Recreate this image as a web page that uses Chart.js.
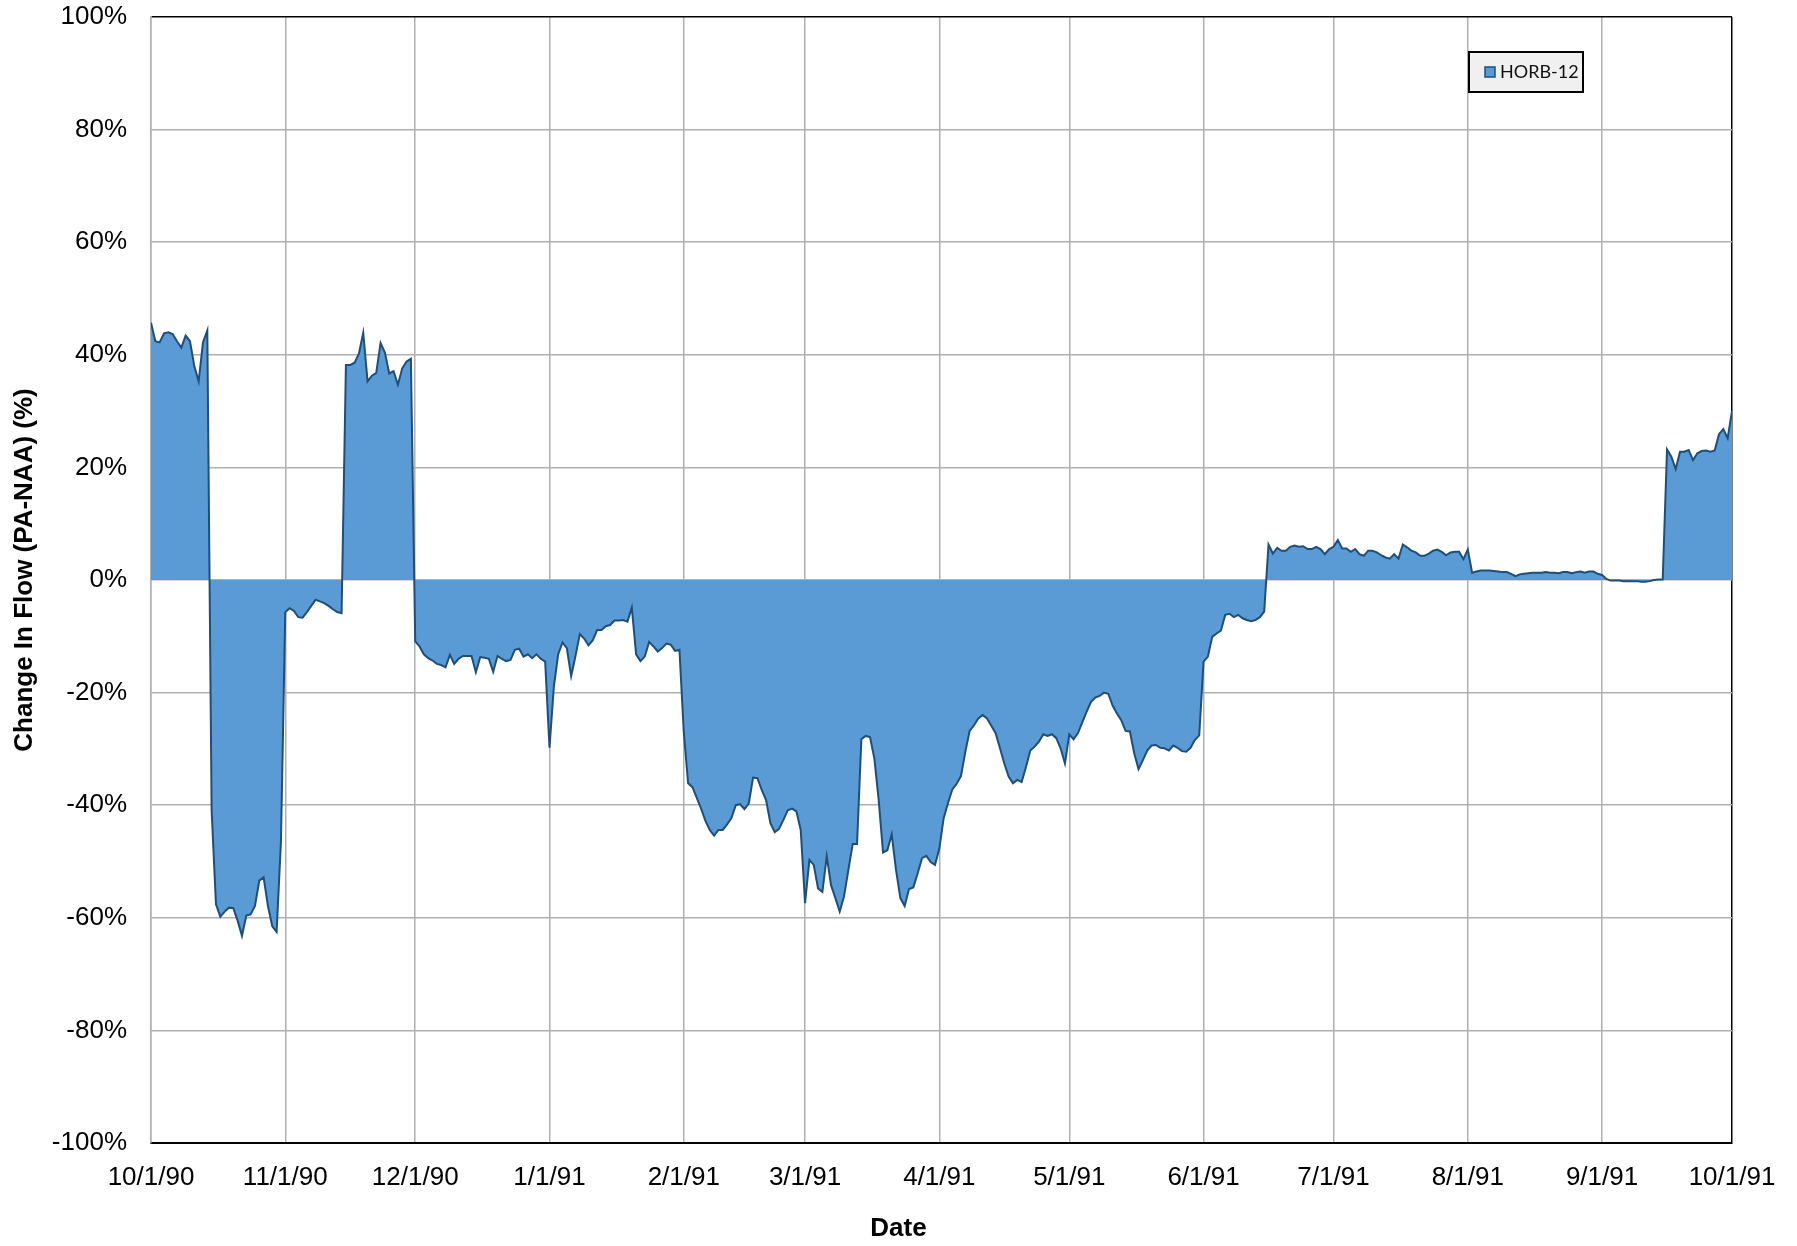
<!DOCTYPE html>
<html>
<head>
<meta charset="utf-8">
<title>HORB-12 change in flow</title>
<script src="https://cdn.jsdelivr.net/npm/chart.js@4.4.1/dist/chart.umd.min.js"></script>
<style>
  html, body { margin: 0; padding: 0; background: #fff; }
  #wrap { width: 1797px; height: 1246px; }
</style>
</head>
<body>
<div id="wrap"><canvas id="myChart" width="1797" height="1246"></canvas></div>
<script>
// daily change in flow (%), water year 10/1/90 - 10/1/91, one array per month
const oct90 = [45.7, 42.4, 42.2, 43.8, 44.0, 43.7, 42.4, 41.3, 43.4, 42.4, 38.0, 35.3, 42.2, 44.3,
  -41.0, -57.6, -59.8, -58.9, -58.2, -58.3, -60.5, -63.2, -59.6, -59.4, -57.9, -53.4, -52.8, -57.9, -61.5, -62.5, -46.5];
const nov90 = [-5.7, -5.0, -5.5, -6.6, -6.7, -5.7, -4.6, -3.5, -3.8, -4.1, -4.6, -5.2, -5.7, -5.9,
  38.2, 38.2, 38.6, 40.2, 43.9, 35.3, 36.3, 36.8, 42.1, 40.4, 36.7, 37.1, 34.7, 37.6, 38.8, 39.3];
const dec90 = [-10.9, -11.8, -13.2, -13.9, -14.3, -14.9, -15.1, -15.5, -13.3, -14.9, -14.0, -13.5, -13.5, -13.5, -16.4,
  -13.7, -13.8, -14.0, -16.3, -13.5, -14.0, -14.4, -14.2, -12.4, -12.2, -13.6, -13.2, -13.9, -13.2, -14.0, -14.5];
const jan91 = [-29.8, -19.0, -13.2, -11.1, -12.1, -17.1, -13.5, -9.6, -10.4, -11.6, -10.7, -8.9, -8.9, -8.2, -8.0,
  -7.2, -7.2, -7.1, -7.4, -4.9, -13.2, -14.4, -13.6, -11.0, -11.8, -12.7, -12.1, -11.3, -11.5, -12.6, -12.4];
const feb91 = [-27.0, -36.1, -36.8, -38.7, -40.6, -42.8, -44.4, -45.4, -44.4, -44.4, -43.4, -42.3, -40.0, -39.8,
  -40.7, -39.7, -35.1, -35.2, -37.3, -39.1, -43.2, -44.8, -44.2, -42.6, -40.9, -40.6, -41.1, -44.4];
const mar91 = [-57.4, -49.7, -50.6, -54.8, -55.4, -49.1, -54.2, -56.5, -58.9, -56.2, -51.5, -46.9, -46.9, -28.3, -27.7,
  -27.9, -31.7, -39.1, -48.4, -48.0, -45.2, -51.5, -56.5, -57.9, -54.9, -54.6, -52.1, -49.4, -49.0, -50.1, -50.6];
const apr91 = [-47.7, -42.3, -39.6, -37.2, -36.2, -34.8, -30.5, -26.8, -25.8, -24.6, -24.0, -24.6, -25.9, -27.2, -29.9,
  -32.6, -34.9, -36.1, -35.5, -35.9, -33.2, -30.3, -29.6, -28.7, -27.4, -27.7, -27.4, -28.1, -29.9, -32.6];
const may91 = [-27.4, -28.3, -27.2, -25.3, -23.4, -21.7, -20.9, -20.6, -20.0, -20.2, -22.3, -23.7, -24.9, -26.8, -26.9,
  -30.8, -33.6, -32.0, -30.3, -29.4, -29.3, -29.8, -29.9, -30.3, -29.4, -29.8, -30.4, -30.5, -29.8, -28.4, -27.6];
const jun91 = [-14.5, -13.6, -10.1, -9.5, -9.0, -6.2, -6.0, -6.6, -6.2, -6.8, -7.1, -7.3, -7.1, -6.6, -5.6,
  6.3, 4.7, 5.7, 5.2, 5.2, 5.9, 6.1, 5.9, 6.0, 5.5, 5.5, 5.9, 5.5, 4.6, 5.5];
const jul91 = [5.9, 7.1, 5.6, 5.6, 5.0, 5.5, 4.6, 4.3, 5.2, 5.2, 4.9, 4.4, 4.0, 3.8, 4.6, 3.8,
  6.3, 5.8, 5.2, 4.9, 4.3, 4.3, 4.7, 5.2, 5.4, 5.0, 4.4, 4.9, 5.0, 5.0, 3.7];
const aug91 = [5.4, 1.3, 1.5, 1.7, 1.7, 1.7, 1.6, 1.5, 1.4, 1.4, 1.1, 0.7, 1.0, 1.1, 1.2, 1.3,
  1.3, 1.3, 1.4, 1.3, 1.3, 1.2, 1.4, 1.4, 1.2, 1.4, 1.5, 1.3, 1.5, 1.5, 1.1];
const sep91 = [0.9, 0.2, -0.1, -0.1, -0.1, -0.2, -0.2, -0.2, -0.2, -0.3, -0.3, -0.2, 0.0, 0.1, 0.1,
  23.2, 21.9, 19.7, 22.8, 22.8, 23.1, 21.3, 22.5, 22.9, 23.0, 22.8, 23.0, 25.9, 26.8, 25.2];
const oct91 = [30.0];

// x ticks: first of each month, counted in days from 10/1/90
const tickDays = [0, 31, 61, 92, 123, 151, 182, 212, 243, 273, 304, 335, 365];
const tickLabels = ["10/1/90", "11/1/90", "12/1/90", "1/1/91", "2/1/91", "3/1/91", "4/1/91",
  "5/1/91", "6/1/91", "7/1/91", "8/1/91", "9/1/91", "10/1/91"];

const seriesName = "HORB-12";
const xTitle = "Date";
const yTitle = "Change In Flow (PA-NAA) (%)";

const values = [].concat(oct90, nov90, dec90, jan91, feb91, mar91, apr91, may91, jun91, jul91, aug91, sep91, oct91);
const points = values.map((v, i) => ({ x: i, y: v }));

const FILL = "#5b9bd5";
const EDGE = "#1f4e79";
const GRID = "#b0b0b0";
const FONT = "'Liberation Sans', Arial, sans-serif";

// axis titles (x title is centred on the whole canvas) and the boxed legend
const decorations = {
  id: "decorations",
  afterDraw(chart) {
    const ctx = chart.ctx;
    const area = chart.chartArea;
    ctx.save();
    ctx.fillStyle = "#000";
    ctx.font = "bold 26px " + FONT;
    ctx.textAlign = "center";
    ctx.textBaseline = "middle";
    ctx.fillText(xTitle, chart.width / 2, 1229);
    ctx.translate(25, (area.top + area.bottom) / 2 - 10);
    ctx.rotate(-Math.PI / 2);
    ctx.fillText(yTitle, 0, 0);
    ctx.restore();

    ctx.save();
    ctx.fillStyle = "#f0f0f0";
    ctx.fillRect(1469, 52, 114, 40);
    ctx.strokeStyle = "#000";
    ctx.lineWidth = 2;
    ctx.strokeRect(1469, 52, 114, 40);
    ctx.fillStyle = FILL;
    ctx.fillRect(1485, 67, 10, 10);
    ctx.strokeStyle = EDGE;
    ctx.lineWidth = 1.5;
    ctx.strokeRect(1485, 67, 10, 10);
    ctx.fillStyle = "#111";
    ctx.font = "18px Lato, 'Open Sans', sans-serif";
    ctx.textBaseline = "middle";
    ctx.fillText(seriesName, 1500, 72.5);
    ctx.restore();
  }
};

const config = {
  type: "line",
  data: {
    datasets: [
      {
        label: seriesName,
        data: points,
        borderColor: EDGE,
        backgroundColor: FILL,
        borderWidth: 2,
        fill: "origin",
        pointRadius: 0,
        tension: 0,
      },
    ],
  },
  options: {
    responsive: false,
    animation: false,
    layout: { padding: { top: 17, right: 65, bottom: 0, left: 0 } },
    plugins: {
      legend: { display: false },
      tooltip: { enabled: false },
    },
    scales: {
      x: {
        type: "linear",
        min: 0,
        max: 365,
        afterFit: (scale) => { scale.height = 103; },
        afterBuildTicks: (scale) => { scale.ticks = tickDays.map((d) => ({ value: d })); },
        grid: {
          color: (c) => (c.tick && c.tick.value === 365 ? "#000" : GRID),
          lineWidth: 1.5,
          drawTicks: false,
        },
        border: { color: "#000", width: 2 },
        ticks: {
          autoSkip: false,
          maxRotation: 0,
          padding: 19,
          color: "#000",
          font: { family: FONT, size: 26 },
          callback: (v) => tickLabels[tickDays.indexOf(v)],
        },
      },
      y: {
        min: -100,
        max: 100,
        afterFit: (scale) => {
          scale.width = 151;
          scale.paddingTop = 0;
          scale.paddingBottom = 0;
        },
        grid: {
          color: (c) => (c.tick && c.tick.value === 100 ? "#000" : GRID),
          lineWidth: 1.5,
          drawTicks: false,
        },
        border: { color: GRID, width: 1.5 },
        ticks: {
          stepSize: 20,
          padding: 24,
          color: "#000",
          font: { family: FONT, size: 26 },
          callback: (v) => v + "%",
        },
      },
    },
  },
  plugins: [decorations],
};

const myChart = new Chart(document.getElementById("myChart"), config);
</script>
</body>
</html>
